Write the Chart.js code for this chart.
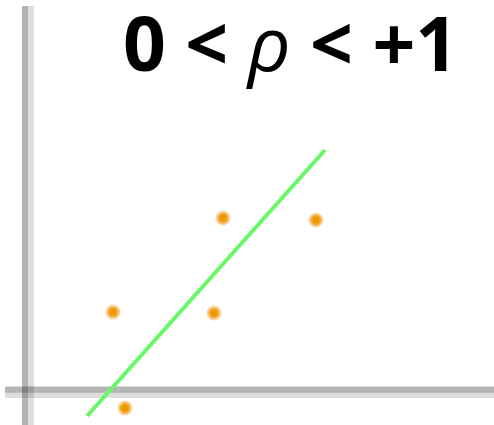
<!DOCTYPE html>
<html>
<head>
<meta charset="utf-8">
<script src="https://cdn.jsdelivr.net/npm/chart.js@4"></script>
<style>
  html, body { margin: 0; padding: 0; background: #fff; }
  #wrap { position: relative; width: 494px; height: 425px; overflow: hidden; }
  #title {
    position: absolute; left: 123px; top: 5px;
    font-family: "Open Sans", sans-serif; font-weight: 700; font-size: 75px;
    color: #000; white-space: pre; line-height: 1; letter-spacing: 0;
  }
  #title i { font-weight: 400; }
</style>
</head>
<body>
<div id="wrap">
  <canvas id="chart" width="494" height="425"></canvas>
  <div id="title"></div>
</div>
<script>
// scatter points (arbitrary units, origin at the axes crossing)
const pointX = [8.5, 18.6, 19.5, 28.8, 9.7];
const pointY = [8.0, 7.9, 17.4, 17.2, -1.6];

// fitted trend line end points
const fitX = [5.9, 29.7];
const fitY = [-2.4, 24.2];

// axis extents
const axisX = [-2.3, 46.6];
const axisY = [-3.3, 38.6];

const titleParts = ['0 < ', 'ρ', ' < +1'];

(function () {
  const title = document.getElementById('title');
  title.append(titleParts[0]);
  const rho = document.createElement('i');
  rho.textContent = titleParts[1];
  title.append(rho);
  title.append(titleParts[2]);

  const toXY = (xs, ys) => xs.map((x, i) => ({ x, y: ys[i] }));

  const axisDark = 'rgba(0,0,0,0.29)';
  const axisLight = 'rgba(0,0,0,0.13)';

  function axisLine(points, color) {
    return {
      data: points,
      showLine: true,
      borderColor: color,
      borderWidth: 6,
      pointRadius: 0,
      borderCapStyle: 'butt',
      order: 3,
    };
  }

  const ctx = document.getElementById('chart').getContext('2d');
  new Chart(ctx, {
    type: 'scatter',
    data: {
      datasets: [
        axisLine([{ x: -0.3, y: axisY[0] }, { x: -0.3, y: axisY[1] }], axisDark),
        axisLine([{ x: 0.3, y: axisY[0] }, { x: 0.3, y: axisY[1] }], axisLight),
        axisLine([{ x: axisX[0], y: 0.25 }, { x: axisX[1], y: 0.25 }], axisDark),
        axisLine([{ x: axisX[0], y: -0.3 }, { x: axisX[1], y: -0.3 }], axisLight),
        {
          data: toXY(fitX, fitY),
          showLine: true,
          borderColor: '#66f866',
          borderWidth: 4,
          pointRadius: 0,
          order: 2,
        },
        {
          data: toXY(pointX, pointY),
          pointRadius: 5.5,
          pointBackgroundColor: '#ee9800',
          pointBorderColor: 'rgba(245,185,100,0.6)',
          pointBorderWidth: 4,
          order: 1,
        },
      ],
    },
    options: {
      responsive: false,
      animation: false,
      layout: { padding: 0, autoPadding: false },
      plugins: { legend: { display: false }, tooltip: { enabled: false } },
      scales: {
        x: { type: 'linear', display: false, min: -2.8, max: 46.6 },
        y: { type: 'linear', display: false, min: -3.3, max: 39.2 },
      },
    },
  });
})();
</script>
</body>
</html>
